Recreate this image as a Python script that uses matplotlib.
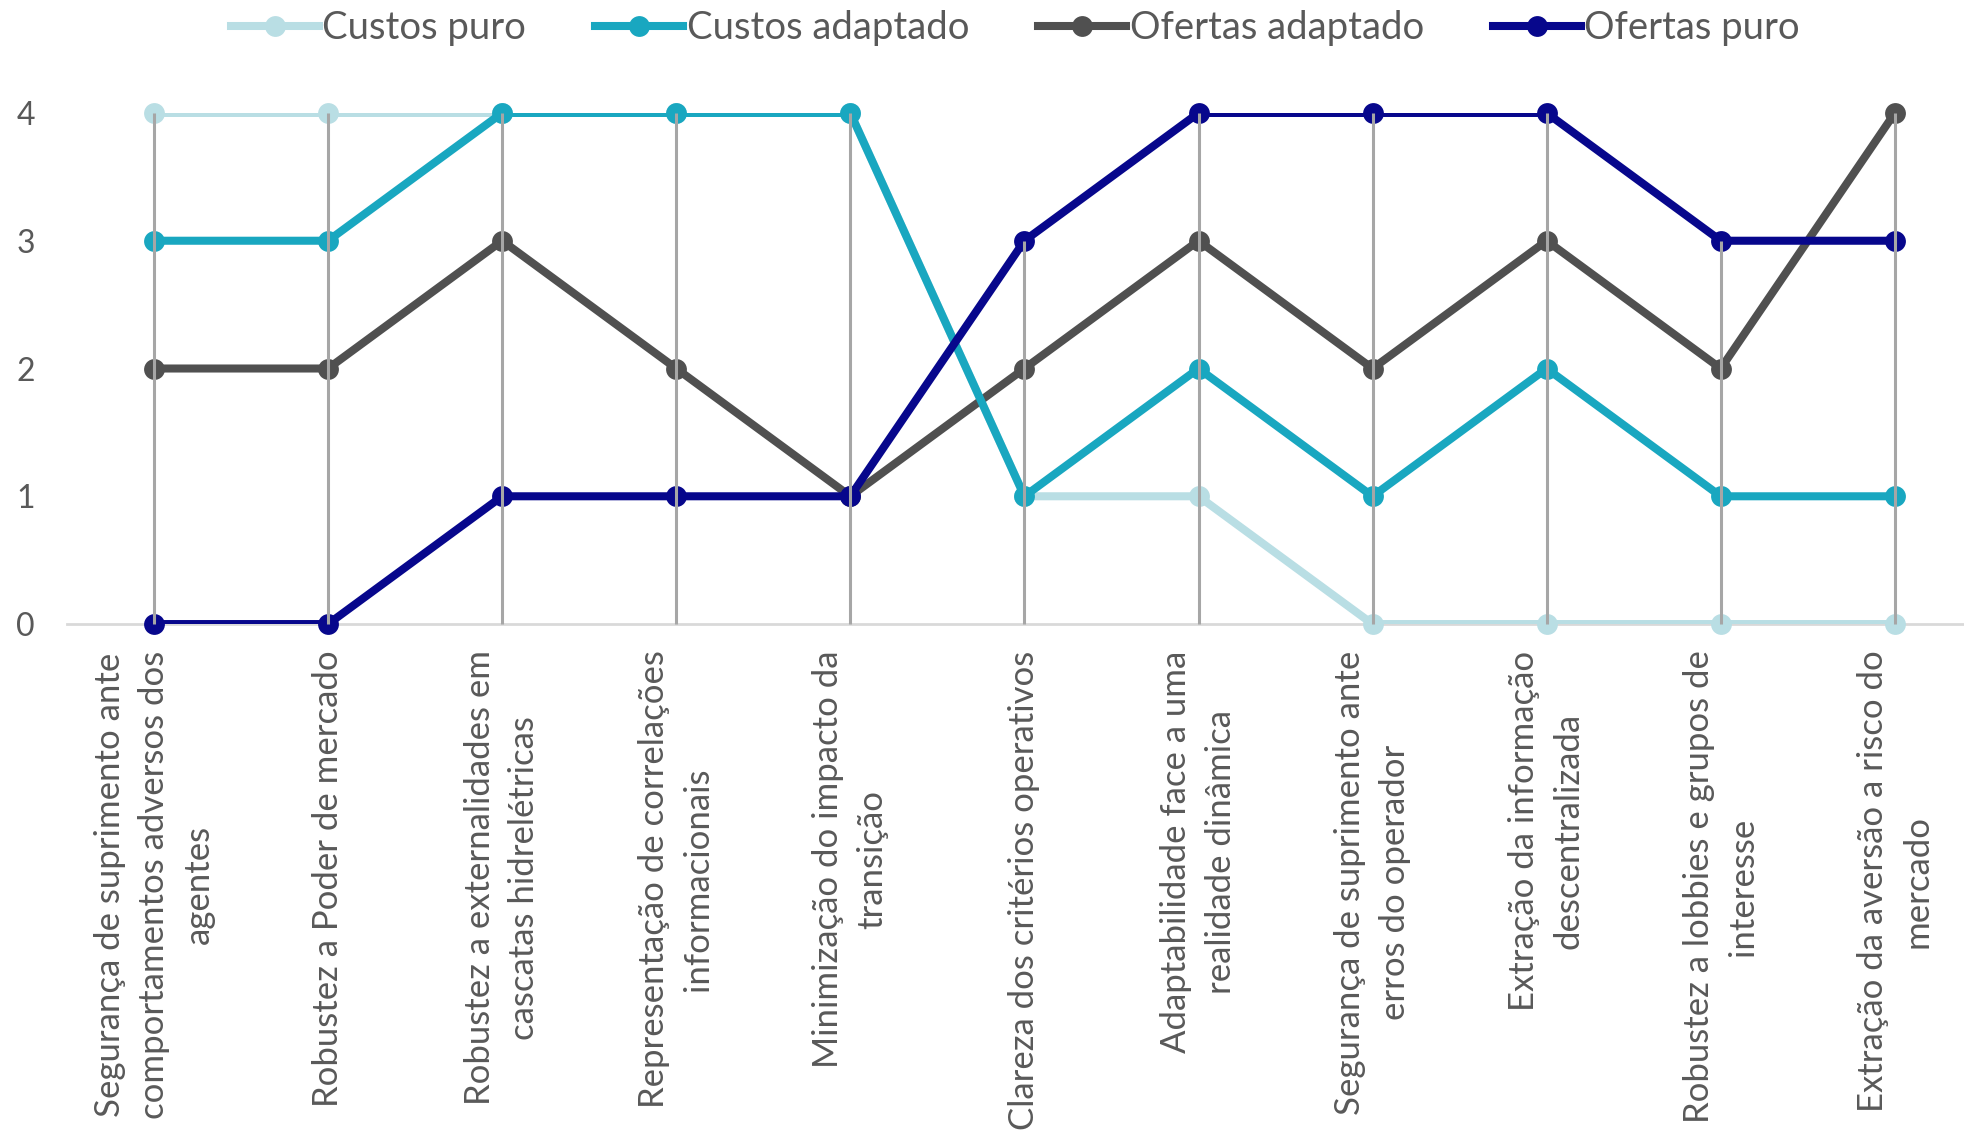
import matplotlib
matplotlib.use("Agg")
import matplotlib.pyplot as plt
import numpy as np

categories = [
    "Segurança de suprimento ante\ncomportamentos adversos dos\nagentes",
    "Robustez a Poder de mercado",
    "Robustez a externalidades em\ncascatas hidrelétricas",
    "Representação de correlações\ninformacionais",
    "Minimização do impacto da\ntransição",
    "Clareza dos critérios operativos",
    "Adaptabilidade face a uma\nrealidade dinâmica",
    "Segurança de suprimento ante\nerros do operador",
    "Extração da informação\ndescentralizada",
    "Robustez a lobbies e grupos de\ninteresse",
    "Extração da aversão a risco do\nmercado",
]
custos_puro = [4, 4, 4, 4, 4, 1, 1, 0, 0, 0, 0]
custos_adaptado = [3, 3, 4, 4, 4, 1, 2, 1, 2, 1, 1]
ofertas_adaptado = [2, 2, 3, 2, 1, 2, 3, 2, 3, 2, 4]
ofertas_puro = [0, 0, 1, 1, 1, 3, 4, 4, 4, 3, 3]
yticks = [0, 1, 2, 3, 4]

series = [
    ("Custos puro", custos_puro, "#b9dee4"),
    ("Custos adaptado", custos_adaptado, "#19a7c0"),
    ("Ofertas adaptado", ofertas_adaptado, "#505050"),
    ("Ofertas puro", ofertas_puro, "#07078c"),
]
draw_order = {"Custos puro": 1, "Ofertas adaptado": 2, "Custos adaptado": 3, "Ofertas puro": 4}

plt.rcParams['font.family'] = ['Lato', 'DejaVu Sans']
text_color = "#595959"

fig = plt.figure(figsize=(19.64, 11.33), dpi=100)
ax = fig.add_axes([0.0341, 0.4492, 0.975, 0.4511])

x = np.arange(len(categories))
lw = 5.8
ms = 15
handles = []
for name, vals, col in series:
    z = draw_order[name]
    # line clipped by the plot area, markers not clipped
    ax.plot(x, vals, color=col, lw=lw, solid_capstyle='butt', zorder=z)
    ax.plot(x, vals, linestyle='none', marker='o', markersize=ms, color=col,
            markeredgewidth=0, clip_on=False, zorder=z)
    handles.append(ax.plot([], [], color=col, lw=lw, marker='o', markersize=ms,
                           markeredgewidth=0, label=name)[0])

# drop lines from axis to the highest point of each category
maxvals = np.max(np.array([custos_puro, custos_adaptado, ofertas_adaptado, ofertas_puro]), axis=0)
ax.vlines(x, 0, maxvals, colors="#a6a6a6", lw=2.2, zorder=6, clip_on=False)

ax.set_xlim(-0.5, len(categories) - 0.5)
ax.set_ylim(0, 4)
ax.set_yticks(yticks)
ax.set_yticklabels([str(v) for v in yticks])
ax.set_xticks(x)
ax.set_xticklabels(categories, rotation=90, ha='center', va='top', multialignment='center',
                   fontsize=25, color=text_color, linespacing=1.48)
ax.tick_params(axis='x', length=0, pad=19)
ax.tick_params(axis='y', length=0, pad=23, labelsize=23, labelcolor=text_color)

for s in ['top', 'right', 'left']:
    ax.spines[s].set_visible(False)
ax.spines['bottom'].set_color("#d9d9d9")
ax.spines['bottom'].set_linewidth(2)
ax.spines['bottom'].set_zorder(0.5)

leg = fig.legend(handles=handles, loc='center', bbox_to_anchor=(0.517, 0.975), ncol=4,
                 frameon=False, fontsize=27.5, handlelength=2.3, handletextpad=0.1,
                 columnspacing=1.8, labelcolor=text_color, borderaxespad=0)

fig.savefig("out.png", dpi=100)
